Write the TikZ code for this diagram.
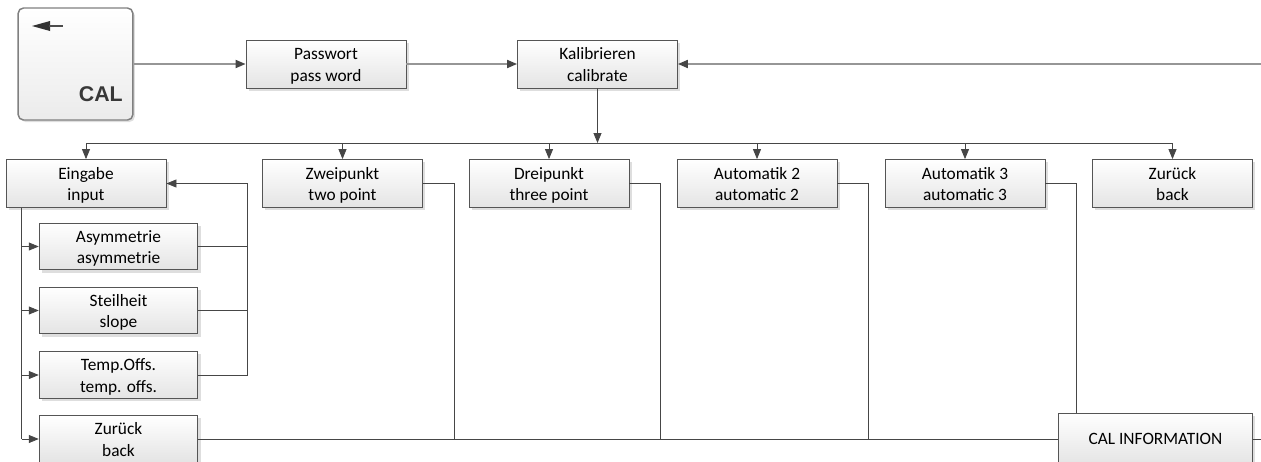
\documentclass[tikz,border=0pt]{standalone}
\usepackage{fontspec}
\setmainfont{Carlito}
\newfontfamily\keyfont{Liberation Sans}
\usetikzlibrary{arrows.meta, positioning, shadows}
\definecolor{boxline}{RGB}{85,85,85}
\definecolor{boxfill}{RGB}{228,228,228}
\definecolor{wire}{RGB}{70,70,70}
\definecolor{flow}{RGB}{150,150,150}
\definecolor{shade}{RGB}{222,222,222}
\tikzset{>={Triangle[length=7.5pt, width=6pt, color=wire]}}
\tikzset{
  menubox/.style = {draw=boxline, line width=0.6pt, top color=white, bottom color=boxfill,
    minimum width=120pt, minimum height=36pt, inner sep=0pt, align=center,
    font=\fontsize{13}{15.8}\selectfont,
    drop shadow={shadow xshift=2pt, shadow yshift=-2pt, fill=shade, opacity=1}},
  twoline/.style = {menubox, text height=28.5pt, text depth=3pt},
  subbox/.style = {twoline, minimum width=119pt, minimum height=35pt},
  wireline/.style = {draw=wire, line width=0.6pt},
  flowline/.style = {draw=flow, line width=1.3pt}
}

\begin{document}
\begin{tikzpicture}[x=0.75pt, y=-0.75pt]
  \useasboundingbox (0,0) rectangle (1261,461);
  \clip (0,0) rectangle (1261,461);
  % CAL key
  \node[draw=gray, line width=1.1pt, rounded corners=4pt, top color=white, bottom color=shade!60,
    minimum width=86pt, minimum height=84pt,
    drop shadow={shadow xshift=1.5pt, shadow yshift=-1.5pt, fill=shade, opacity=1}] (calkey) at (75.5,64) {};
  \node[font=\keyfont\bfseries\fontsize{16}{16}\selectfont, text=black!78, anchor=south east, inner sep=0pt] (calname) at (123,102) {CAL};
  \fill[black!80] (32,26) -- (50,21) -- (50,31) -- cycle;
  \draw[line width=1.5pt, draw=black!70] (49,26) -- (63,26);
  % top row
  \node[twoline] (pass) at (326,64) {Passwort\\pass word};
  \node[twoline] (kal) at (597.5,64) {Kalibrieren\\calibrate};
  \coordinate (rin) at (1261,64);
  \draw[flowline,->] (calkey) -- (pass);
  \draw[flowline,->] (pass) -- (kal);
  \draw[flowline,->] (rin) -- (kal);
  % second row
  \foreach \n/\x/\t in {eing/86/{Eingabe\\input}, zwei/342.5/{Zweipunkt\\two point},
    drei/549/{Dreipunkt\\three point}, auto2/757/{Automatik 2\\automatic 2},
    auto3/965/{Automatik 3\\automatic 3}, zur/1172.5/{Zurück\\back}}
    \node[twoline] (\n) at (\x,183.5) {\t};
  \coordinate (bus) at (597.5,143);
  \draw[wireline,->] (kal) -- (bus);
  \draw[wireline] (eing.north |- bus) -- (zur.north |- bus);
  \foreach \n in {eing,zwei,drei,auto2,auto3,zur}
    \draw[wireline,->] (\n.north |- bus) -- (\n.north);
  % input submenu
  \foreach \n/\y/\t in {asym/246.5/{Asymmetrie\\asymmetrie}, steil/310.5/{Steilheit\\slope},
    temp/375/{Temp.Offs.\\temp. offs.}, subz/439/{Zurück\\back}}
    \node[subbox] (\n) at (118.5,\y) {\t};
  \node[menubox, minimum width=145pt, minimum height=39pt] (calinfo) at (1155.5,439) {CAL INFORMATION};
  \coordinate (edown) at ([xshift=12pt]eing.south west);
  \draw[wireline] (edown) -- (edown |- subz.west);
  \foreach \n in {asym,steil,temp,subz}
    \draw[wireline,->] (edown |- \n.west) -- (\n.west);
  \coordinate (ret) at (247,375);
  \foreach \n in {asym,steil}
    \draw[wireline] (\n.east) -- (\n.east -| ret);
  \draw[wireline,->] (temp.east) -| (ret |- eing.east) -- (eing.east);
  % back to CAL INFORMATION
  \draw[wireline] (subz.east) -- (calinfo.west);
  \foreach \n in {zwei,drei,auto2}
    \draw[wireline] (\n.east) -- ++(31,0) coordinate (d\n) -- (d\n |- calinfo.west);
  \draw[wireline] (auto3.east) -- ++(31,0) coordinate (dauto3) -- (dauto3 |- calinfo.north);
  \coordinate (rout) at (1261,439);
  \draw[wireline] (calinfo.east) -- (rout);
\end{tikzpicture}
\end{document}
